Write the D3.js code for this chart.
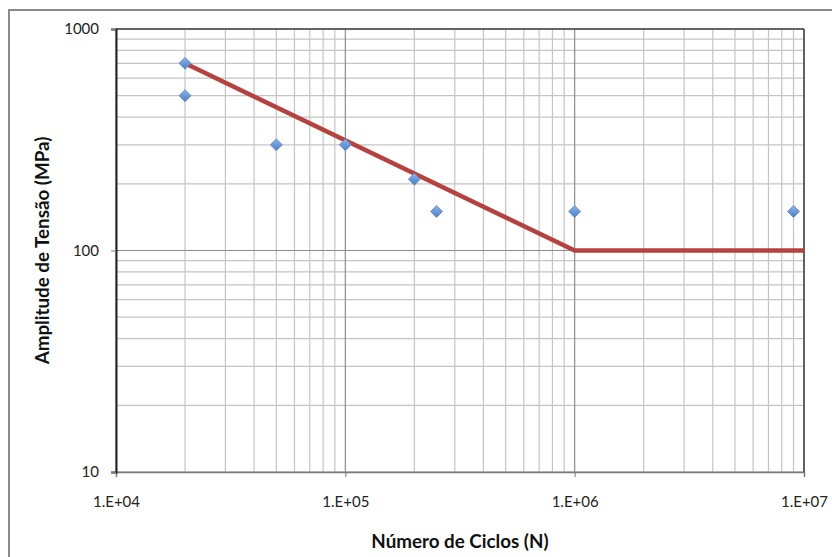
<!DOCTYPE html>
<html><head><meta charset="utf-8">
<script src="https://cdn.jsdelivr.net/npm/d3@7"></script>
<style>body{margin:0;background:#fff}svg{display:block}text{font-family:Lato,"Liberation Sans",sans-serif}</style>
</head><body><svg id="c" width="832" height="557"></svg>
<script>
const cycles = [2e4, 2e4, 5e4, 1e5, 2e5, 2.5e5, 1e6, 9e6];
const stress = [700, 500, 300, 300, 210, 150, 150, 150];
const curveCycles = [2e4, 1e6, 1e7];
const curveStress = [700, 100, 100];
const xTicks = [1e4, 1e5, 1e6, 1e7];
const xTickLabels = ["1.E+04", "1.E+05", "1.E+06", "1.E+07"];
const yTicks = [10, 100, 1000];
const yTickLabels = ["10", "100", "1000"];
const xTitle = "Número de Ciclos (N)";
const yTitle = "Amplitude de Tensão (MPa)";

const svg = d3.select("#c");
const L = 116, R = 804, T = 29, B = 472;
const x = d3.scaleLog().domain([1e4, 1e7]).range([L, R]);
const y = d3.scaleLog().domain([10, 1000]).range([B, T]);

// outer frame
svg.append("rect").attr("x", 9).attr("y", 10).attr("width", 840).attr("height", 560)
  .attr("fill", "none").attr("stroke", "#8a8a8a").attr("stroke-width", 2);

// minor grid
const minorX = [], minorY = [];
[1e4, 1e5, 1e6].forEach(d => { for (let k = 2; k <= 9; k++) minorX.push(d * k); });
[10, 100].forEach(d => { for (let k = 2; k <= 9; k++) minorY.push(d * k); });
const g = svg.append("g");
g.selectAll(".mx").data(minorX).join("line")
  .attr("x1", d => x(d)).attr("x2", d => x(d)).attr("y1", T).attr("y2", B)
  .attr("stroke", "#c4c4c4").attr("stroke-width", 1.2);
g.selectAll(".my").data(minorY).join("line")
  .attr("x1", L).attr("x2", R).attr("y1", d => y(d)).attr("y2", d => y(d))
  .attr("stroke", "#c4c4c4").attr("stroke-width", 1.2);
// major grid
g.selectAll(".Mx").data(xTicks).join("line")
  .attr("x1", d => x(d)).attr("x2", d => x(d)).attr("y1", T).attr("y2", B)
  .attr("stroke", "#8c8c8c").attr("stroke-width", 1.2);
g.selectAll(".My").data(yTicks).join("line")
  .attr("x1", L).attr("x2", R).attr("y1", d => y(d)).attr("y2", d => y(d))
  .attr("stroke", "#8c8c8c").attr("stroke-width", 1.2);

// plot border
svg.append("line").attr("x1", L).attr("x2", R).attr("y1", T).attr("y2", T).attr("stroke", "#444").attr("stroke-width", 1.5);
svg.append("line").attr("x1", R).attr("x2", R).attr("y1", T).attr("y2", B).attr("stroke", "#444").attr("stroke-width", 1.5);

// axes
const xAxis = d3.axisBottom(x).tickValues(xTicks).tickFormat((d, i) => xTickLabels[i]).tickSize(5).tickPadding(19);
const xg = svg.append("g").attr("transform", `translate(0,${B})`).call(xAxis);
xg.select(".domain").attr("stroke", "#7a7a7a").attr("stroke-width", 1.5);
xg.selectAll(".tick line").attr("stroke", "#7a7a7a");
xg.selectAll("text").attr("font-size", 15).attr("fill", "#222");

const yAxis = d3.axisLeft(y).tickValues(yTicks).tickFormat((d, i) => yTickLabels[i]).tickSize(5).tickPadding(12);
const yg = svg.append("g").attr("transform", `translate(${L},0)`).call(yAxis);
yg.select(".domain").attr("stroke", "#222").attr("stroke-width", 2);
yg.selectAll(".tick line").attr("stroke", "#7a7a7a");
yg.selectAll("text").attr("font-size", 15).attr("fill", "#222");

// fatigue curve
const line = d3.line().x(d => x(d[0])).y(d => y(d[1]));
svg.append("path").datum(curveCycles.map((c, i) => [c, curveStress[i]]))
  .attr("d", line).attr("fill", "none").attr("stroke", "#b6423f").attr("stroke-width", 4.5)
  .attr("stroke-linejoin", "miter");

// markers
const defs = svg.append("defs");
const grad = defs.append("linearGradient").attr("id", "mg").attr("x1", 0).attr("y1", 0).attr("x2", 0).attr("y2", 1);
grad.append("stop").attr("offset", "0%").attr("stop-color", "#8fb3e6");
grad.append("stop").attr("offset", "100%").attr("stop-color", "#4a7fc8");
const sym = d3.symbol().type(d3.symbolDiamond2).size(92);
svg.selectAll(".pt").data(cycles.map((c, i) => [c, stress[i]])).join("path")
  .attr("transform", d => `translate(${x(d[0])},${y(d[1])})`)
  .attr("d", sym).attr("fill", "url(#mg)").attr("stroke", "#5b87c9").attr("stroke-width", 0.8);

// titles
svg.append("text").attr("x", (L + R) / 2).attr("y", 548).attr("text-anchor", "middle")
  .attr("font-size", 18.8).attr("font-weight", "bold").attr("fill", "#111").text(xTitle);
svg.append("text").attr("transform", `translate(49,${(T + B) / 2}) rotate(-90)`).attr("text-anchor", "middle")
  .attr("font-size", 18.8).attr("font-weight", "bold").attr("fill", "#111").text(yTitle);
</script></body></html>
